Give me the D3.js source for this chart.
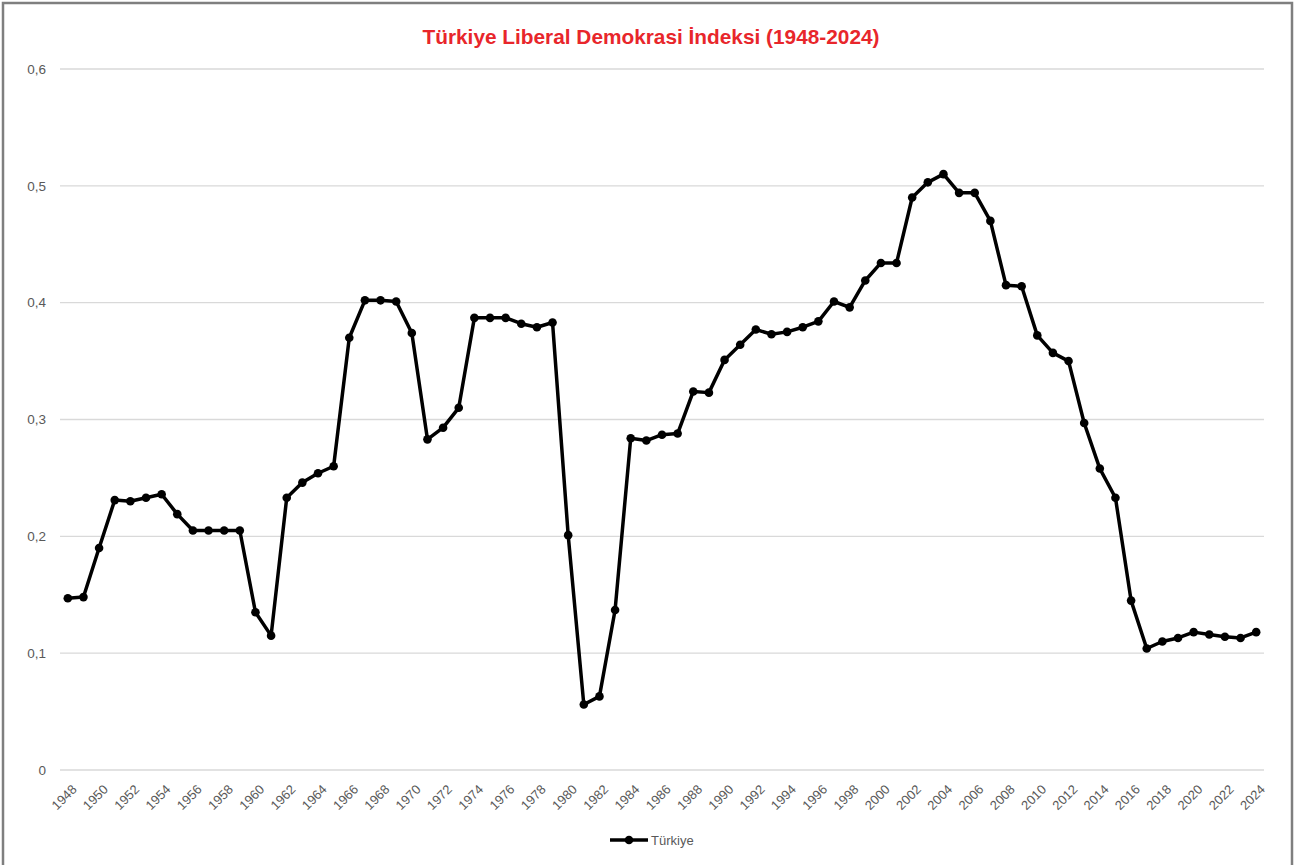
<!DOCTYPE html>
<html>
<head>
<meta charset="utf-8">
<script src="https://cdn.jsdelivr.net/npm/d3@7"></script>
<style>
  body { margin: 0; background: #fff; }
  svg { display: block; }
</style>
</head>
<body>
<svg id="chart" width="1296" height="865"></svg>
<script>
const years = d3.range(1948, 2025);
const values = [
  0.147, 0.148, 0.190, 0.231, 0.230, 0.233, 0.236, 0.219, 0.205, 0.205,
  0.205, 0.205, 0.135, 0.115, 0.233, 0.246, 0.254, 0.260, 0.370, 0.402,
  0.402, 0.401, 0.374, 0.283, 0.293, 0.310, 0.387, 0.387, 0.387, 0.382,
  0.379, 0.383, 0.201, 0.056, 0.063, 0.137, 0.284, 0.282, 0.287, 0.288,
  0.324, 0.323, 0.351, 0.364, 0.377, 0.373, 0.375, 0.379, 0.384, 0.401,
  0.396, 0.419, 0.434, 0.434, 0.490, 0.503, 0.510, 0.494, 0.494, 0.470,
  0.415, 0.414, 0.372, 0.357, 0.350, 0.297, 0.258, 0.233, 0.145, 0.104,
  0.110, 0.113, 0.118, 0.116, 0.114, 0.113, 0.118
];
const yTicks = [0, 0.1, 0.2, 0.3, 0.4, 0.5, 0.6];
const xTickYears = years.filter(y => (y - 1948) % 2 === 0);
const title = "Türkiye Liberal Demokrasi İndeksi (1948-2024)";
const seriesName = "Türkiye";

const data = years.map((y, i) => ({ year: y, value: values[i] }));

const svg = d3.select("#chart");
const M = { left: 60, right: 1264, top: 69, bottom: 770 };

svg.append("rect").attr("x", 3).attr("y", 3).attr("width", 1289).attr("height", 880)
  .attr("fill", "#fff").attr("stroke", "#7f7f7f").attr("stroke-width", 2.5);

const x = d3.scalePoint().domain(years).range([M.left, M.right]).padding(0.5);
const y = d3.scaleLinear().domain([0, 0.6]).range([M.bottom, M.top]);

const font = "Liberation Sans, Arial, sans-serif";

// gridlines
svg.append("g").selectAll("line").data(yTicks).join("line")
  .attr("x1", M.left).attr("x2", M.right)
  .attr("y1", d => y(d)).attr("y2", d => y(d))
  .attr("stroke", "#d9d9d9").attr("stroke-width", 1.3);

// y axis
const yAxis = svg.append("g").attr("transform", `translate(${M.left},0)`)
  .call(d3.axisLeft(y).tickValues(yTicks).tickSize(0).tickPadding(14)
    .tickFormat(d => d === 0 ? "0" : d3.format(".1f")(d).replace(".", ",")));
yAxis.select(".domain").remove();
yAxis.selectAll("text").attr("font-family", font).attr("font-size", 13.5).attr("fill", "#595959");

// x axis
const xAxis = svg.append("g").attr("transform", `translate(0,${M.bottom})`)
  .call(d3.axisBottom(x).tickValues(xTickYears).tickSize(0));
xAxis.select(".domain").remove();
xAxis.selectAll("text")
  .attr("font-family", font).attr("font-size", 13).attr("fill", "#595959")
  .attr("text-anchor", "end").attr("x", 0).attr("y", 0).attr("dy", "0.35em")
  .attr("transform", "translate(6,17) rotate(-45)");

// line
const line = d3.line().x(d => x(d.year)).y(d => y(d.value));
svg.append("path").datum(data).attr("d", line)
  .attr("fill", "none").attr("stroke", "#000").attr("stroke-width", 3.5)
  .attr("stroke-linejoin", "round");
svg.append("g").selectAll("circle").data(data).join("circle")
  .attr("cx", d => x(d.year)).attr("cy", d => y(d.value)).attr("r", 4.3)
  .attr("fill", "#000");

// title
svg.append("text").attr("x", 651).attr("y", 44).attr("text-anchor", "middle")
  .attr("font-family", font).attr("font-weight", "bold").attr("font-size", 21)
  .attr("fill", "#e8262b").attr("textLength", 457).attr("lengthAdjust", "spacingAndGlyphs")
  .text(title);

// legend
const lg = svg.append("g").attr("transform", "translate(610,840)");
lg.append("line").attr("x1", 0).attr("x2", 38).attr("y1", 0).attr("y2", 0)
  .attr("stroke", "#000").attr("stroke-width", 3.5);
lg.append("circle").attr("cx", 19).attr("cy", 0).attr("r", 4.3).attr("fill", "#000");
lg.append("text").attr("x", 41).attr("y", 0).attr("dy", "0.35em")
  .attr("font-family", font).attr("font-size", 13).attr("fill", "#595959").text(seriesName);
</script>
</body>
</html>
